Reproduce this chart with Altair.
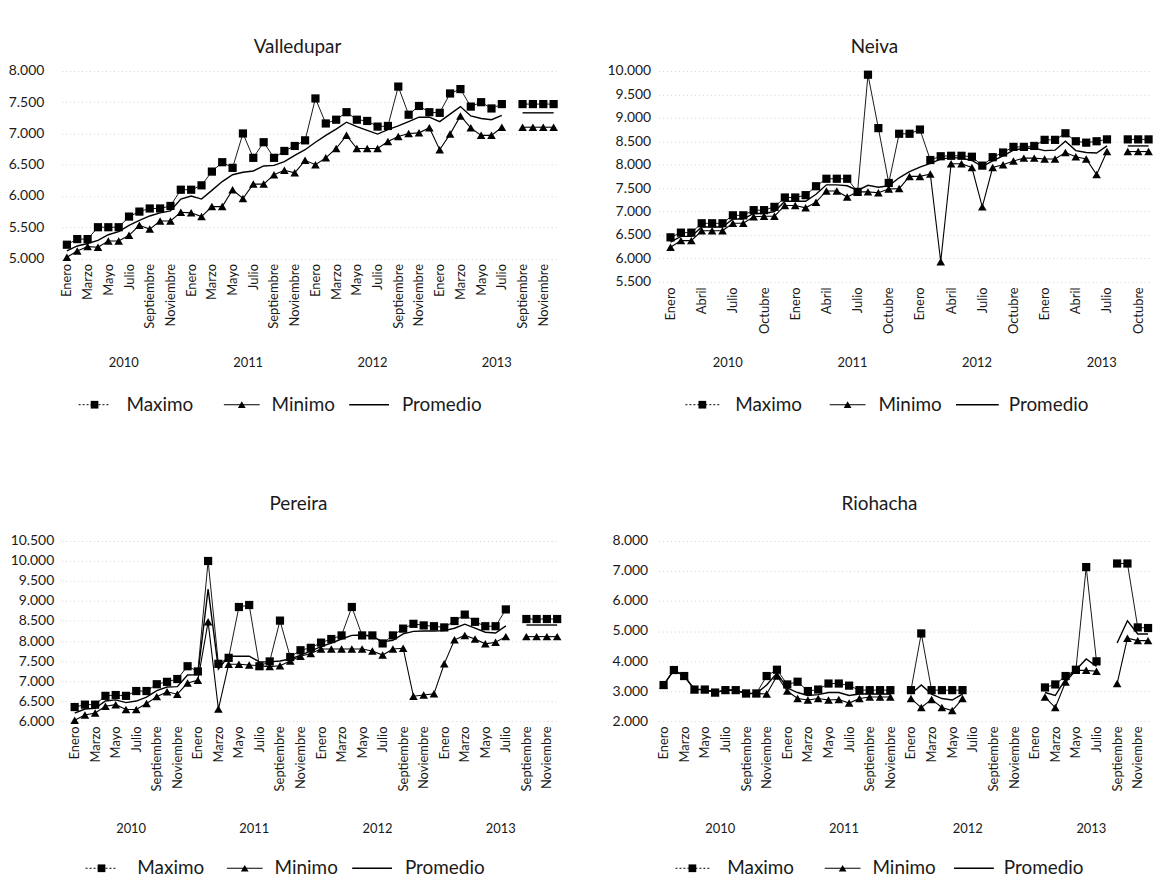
import altair as alt
import pandas as pd

MONTHS = ["Enero", "Febrero", "Marzo", "Abril", "Mayo", "Junio", "Julio",
          "Agosto", "Septiembre", "Octubre", "Noviembre", "Diciembre"]
YEARS = ["2010", "2011", "2012", "2013"]
SERIES = ["Maximo", "Minimo", "Promedio"]

# ---------------- data (thousands of pesos), one value per month 2010-01 .. 2013-12
valledupar_max = [5.22, 5.31, 5.31, 5.50, 5.50, 5.50, 5.67, 5.75, 5.80, 5.80, 5.84, 6.10,
                  6.10, 6.17, 6.39, 6.54, 6.45, 7.00, 6.61, 6.86, 6.61, 6.72, 6.80, 6.89,
                  7.56, 7.16, 7.22, 7.34, 7.22, 7.20, 7.11, 7.12, 7.75, 7.30, 7.44, 7.34,
                  7.33, 7.64, 7.71, 7.43, 7.50, 7.40, 7.47, None, 7.47, 7.47, 7.47, 7.47]
valledupar_min = [5.02, 5.12, 5.19, 5.18, 5.28, 5.28, 5.37, 5.53, 5.47, 5.60, 5.60, 5.74,
                  5.73, 5.67, 5.83, 5.83, 6.10, 5.96, 6.19, 6.19, 6.34, 6.41, 6.37, 6.57,
                  6.50, 6.61, 6.76, 6.97, 6.76, 6.76, 6.76, 6.87, 6.95, 7.00, 7.01, 7.09,
                  6.74, 6.99, 7.28, 7.09, 6.97, 6.97, 7.10, None, 7.10, 7.10, 7.10, 7.10]
valledupar_prom = [5.12, 5.20, 5.24, 5.29, 5.38, 5.43, 5.53, 5.61, 5.68, 5.73, 5.76, 5.95,
                   6.00, 5.95, 6.09, 6.23, 6.34, 6.38, 6.40, 6.48, 6.49, 6.55, 6.65, 6.74,
                   6.86, 6.97, 7.07, 7.18, 7.11, 7.05, 6.99, 7.06, 7.12, 7.19, 7.26, 7.26,
                   7.19, 7.31, 7.43, 7.28, 7.24, 7.22, 7.29, None, 7.33, 7.33, 7.33, 7.33]

neiva_max = [6.45, 6.55, 6.55, 6.75, 6.75, 6.75, 6.92, 6.92, 7.03, 7.03, 7.10, 7.30,
             7.30, 7.35, 7.54, 7.70, 7.70, 7.70, 7.42, 9.92, 8.78, 7.61, 8.66, 8.66,
             8.75, 8.10, 8.18, 8.19, 8.19, 8.17, 7.98, 8.16, 8.26, 8.38, 8.38, 8.40,
             8.53, 8.53, 8.67, 8.50, 8.47, 8.50, 8.54, None, 8.54, 8.54, 8.54, None]
neiva_min = [6.24, 6.38, 6.38, 6.59, 6.59, 6.59, 6.75, 6.75, 6.89, 6.90, 6.90, 7.13,
             7.13, 7.08, 7.20, 7.44, 7.44, 7.31, 7.42, 7.42, 7.40, 7.48, 7.49, 7.75,
             7.75, 7.80, 5.93, 8.02, 8.02, 7.94, 7.10, 7.94, 8.00, 8.08, 8.14, 8.14,
             8.12, 8.12, 8.26, 8.17, 8.12, 7.79, 8.28, None, 8.28, 8.28, 8.28, None]
neiva_prom = [6.35, 6.47, 6.47, 6.67, 6.67, 6.67, 6.84, 6.84, 6.96, 6.96, 7.00, 7.22,
              7.22, 7.22, 7.37, 7.57, 7.57, 7.55, 7.45, 7.56, 7.52, 7.55, 7.72, 7.85,
              7.95, 8.03, 8.12, 8.15, 8.14, 8.09, 7.96, 8.08, 8.19, 8.31, 8.35, 8.35,
              8.30, 8.31, 8.50, 8.30, 8.26, 8.25, 8.40, None, 8.40, 8.40, 8.40, None]

pereira_max = [6.35, 6.41, 6.41, 6.63, 6.65, 6.63, 6.75, 6.75, 6.92, 6.98, 7.05, 7.37,
               7.24, 10.00, 7.43, 7.58, 8.85, 8.90, 7.37, 7.49, 8.51, 7.60, 7.77, 7.83,
               7.96, 8.05, 8.14, 8.85, 8.14, 8.14, 7.94, 8.14, 8.31, 8.43, 8.39, 8.37,
               8.34, 8.50, 8.66, 8.48, 8.37, 8.37, 8.79, None, 8.55, 8.55, 8.55, 8.55]
pereira_min = [6.02, 6.15, 6.20, 6.37, 6.41, 6.29, 6.29, 6.44, 6.61, 6.73, 6.67, 6.95,
               7.02, 8.48, 6.30, 7.42, 7.42, 7.40, 7.38, 7.36, 7.38, 7.50, 7.62, 7.69,
               7.80, 7.80, 7.80, 7.80, 7.80, 7.75, 7.65, 7.80, 7.82, 6.62, 6.65, 6.68,
               7.43, 8.03, 8.14, 8.05, 7.93, 7.97, 8.11, None, 8.11, 8.11, 8.11, 8.11]
pereira_prom = [6.20, 6.30, 6.32, 6.50, 6.53, 6.46, 6.50, 6.60, 6.76, 6.85, 6.86, 7.15,
                7.16, 9.30, 7.30, 7.62, 7.62, 7.62, 7.48, 7.48, 7.50, 7.55, 7.65, 7.75,
                7.86, 7.95, 8.05, 8.14, 8.15, 8.12, 7.98, 8.02, 8.18, 8.24, 8.25, 8.25,
                8.26, 8.32, 8.42, 8.32, 8.22, 8.20, 8.38, None, 8.40, 8.40, 8.40, 8.40]

riohacha_max = [3.20, 3.70, 3.50, 3.05, 3.05, 2.95, 3.03, 3.03, 2.92, 2.92, 3.50, 3.71,
                3.22, 3.31, 3.00, 3.05, 3.25, 3.25, 3.18, 3.03, 3.03, 3.03, 3.03, None,
                3.03, 4.92, 3.03, 3.03, 3.03, 3.03, None, None, None, None, None, None,
                None, 3.12, 3.22, 3.50, 3.71, 7.13, 3.99, None, 7.25, 7.25, 5.12, 5.10]
riohacha_min = [3.20, 3.70, 3.50, 3.05, 3.05, 2.95, 3.03, 3.03, 2.92, 2.92, 2.90, 3.50,
                3.00, 2.75, 2.70, 2.75, 2.70, 2.72, 2.60, 2.75, 2.80, 2.80, 2.80, None,
                2.75, 2.45, 2.72, 2.45, 2.35, 2.75, None, None, None, None, None, None,
                None, 2.80, 2.45, 3.30, 3.69, 3.69, 3.66, None, 3.25, 4.76, 4.68, 4.68]
riohacha_prom = [3.20, 3.70, 3.50, 3.05, 3.05, 2.95, 3.03, 3.03, 2.92, 2.92, 3.20, 3.60,
                 3.10, 2.95, 2.85, 2.88, 2.95, 2.95, 2.85, 2.90, 2.90, 2.90, 2.90, None,
                 2.90, 3.20, 2.90, 2.75, 2.70, 2.90, None, None, None, None, None, None,
                 None, 2.95, 2.85, 3.40, 3.70, 4.07, 3.82, None, 4.60, 5.34, 4.90, 4.90]

FONT = "Lato"
TXT = "#1a1a1a"
ONE = pd.DataFrame({"k": [0]})


def long_df(mx, mn, pr):
    rows = []
    for name, arr in zip(SERIES, [mx, mn, pr]):
        seg, gap = 0, True
        for i, v in enumerate(arr):
            if v is None:
                gap = True
                continue
            if gap:
                seg += 1
                gap = False
            rows.append({"i": i, "serie": name, "v": v, "seg": f"{name}{seg}"})
    return pd.DataFrame(rows)


def frange(a, b, s):
    out, v = [], a
    while v <= b + 1e-9:
        out.append(round(v, 3))
        v += s
    return out


MONTH_ARR = "[" + ",".join(f"'{m}'" for m in MONTHS) + "]"


def panel(name, mx, mn, pr, dom_x, width, dom_y, height, y_step, x_every,
          y_offset, title_dx, title_offset, year_y, leg_y, leg):
    df = long_df(mx, mn, pr)
    xs = alt.Scale(domain=dom_x, nice=False, zero=False)
    ys = alt.Scale(domain=dom_y, nice=False, zero=False)
    x_axis = alt.Axis(values=[i for i in range(48) if i % x_every == 0],
                      labelExpr=f"{MONTH_ARR}[datum.value % 12]",
                      labelAngle=270, labelPadding=5, labelFontSize=13,
                      labelFont=FONT, labelColor=TXT, ticks=False, domain=False,
                      grid=False, title=None, labelOverlap=False, labelFlush=False)
    y_axis = alt.Axis(values=frange(dom_y[0], dom_y[1], y_step), format=".3f",
                      labelFontSize=14, labelFont=FONT, labelColor=TXT,
                      ticks=False, domain=False, grid=True, gridColor="#d4d4d4",
                      gridDash=[1, 3], gridWidth=1, labelPadding=18,
                      offset=y_offset, title=None)
    X = alt.X("i:Q", scale=xs, axis=x_axis)
    Y = alt.Y("v:Q", scale=ys, axis=y_axis)
    base = alt.Chart(df)

    max_line = base.transform_filter(alt.datum.serie == "Maximo").mark_line(
        color="black", strokeWidth=0.9).encode(x=X, y=Y, detail="seg:N")
    max_pts = base.transform_filter(alt.datum.serie == "Maximo").mark_point(
        shape="square", filled=True, color="black", size=68, opacity=1).encode(x=X, y=Y)
    min_line = base.transform_filter(alt.datum.serie == "Minimo").mark_line(
        color="black", strokeWidth=1.1).encode(x=X, y=Y, detail="seg:N")
    min_pts = base.transform_filter(alt.datum.serie == "Minimo").mark_point(
        shape="triangle-up", filled=True, color="black", size=75, opacity=1).encode(x=X, y=Y)
    prom_line = base.transform_filter(alt.datum.serie == "Promedio").mark_line(
        color="black", strokeWidth=1.4).encode(x=X, y=Y, detail="seg:N")

    years_df = pd.DataFrame({"i": [12 * k + 5.5 for k in range(4)], "year": YEARS})
    years = alt.Chart(years_df).mark_text(
        fontSize=13, font=FONT, color=TXT, baseline="middle").encode(
        x=alt.X("i:Q", scale=xs, axis=x_axis), y=alt.value(year_y), text="year:N")

    layers = [max_line, min_line, prom_line, max_pts, min_pts, years]

    # legend glyphs
    L = alt.Chart(ONE)
    layers += [
        L.mark_rule(color="black", strokeWidth=1, strokeDash=[2, 2]).encode(
            x=alt.value(leg["max_l"][0]), x2=alt.value(leg["max_l"][1]), y=alt.value(leg_y)),
        L.mark_point(shape="square", filled=True, color="black", size=60, opacity=1).encode(
            x=alt.value(leg["max_m"]), y=alt.value(leg_y)),
        L.mark_rule(color="black", strokeWidth=1.1).encode(
            x=alt.value(leg["min_l"][0]), x2=alt.value(leg["min_l"][1]), y=alt.value(leg_y)),
        L.mark_point(shape="triangle-up", filled=True, color="black", size=60, opacity=1).encode(
            x=alt.value(leg["min_m"]), y=alt.value(leg_y)),
        L.mark_rule(color="black", strokeWidth=1.4).encode(
            x=alt.value(leg["pro_l"][0]), x2=alt.value(leg["pro_l"][1]), y=alt.value(leg_y)),
    ]
    for key, txt in [("max_t", "Maximo"), ("min_t", "Minimo"), ("pro_t", "Promedio")]:
        layers.append(L.mark_text(align="left", baseline="middle", fontSize=19,
                                  font=FONT, color=TXT).encode(
            x=alt.value(leg[key]), y=alt.value(leg_y), text=alt.value(txt)))

    return alt.layer(*layers).properties(
        width=width, height=height,
        title=alt.TitleParams(text=name, fontSize=19, font=FONT, fontWeight="normal",
                              color=TXT, anchor="middle", frame="group",
                              dx=title_dx, offset=title_offset))


leg_v = {"max_l": (17, 49), "max_m": 33, "max_t": 65,
         "min_l": (163, 199), "min_m": 181, "min_t": 211,
         "pro_l": (289, 329), "pro_t": 342}
leg_n = {"max_l": (27, 61), "max_m": 44, "max_t": 77,
         "min_l": (172, 208), "min_m": 190, "min_t": 221,
         "pro_l": (299, 342), "pro_t": 352}
leg_p = {"max_l": (24, 56), "max_m": 40, "max_t": 76,
         "min_l": (166, 202), "min_m": 184, "min_t": 214,
         "pro_l": (292, 332), "pro_t": 345}
leg_r = {"max_l": (17, 51), "max_m": 34, "max_t": 69,
         "min_l": (167, 203), "min_m": 185, "min_t": 215,
         "pro_l": (297, 337), "pro_t": 347}

v = panel("Valledupar", valledupar_max, valledupar_min, valledupar_prom,
          [-0.5, 47.53], 500, [5.0, 8.0], 188.5, 0.5, 2, 0, -13, 7, 293.5, 335.5, leg_v)
n = panel("Neiva", neiva_max, neiva_min, neiva_prom,
          [-1.149, 46.14], 494, [5.5, 10.0], 212, 0.5, 3, -10, -30, 7, 293.5, 335.5, leg_n)
p = panel("Pereira", pereira_max, pereira_min, pereira_prom,
          [-1.26, 47.19], 500, [6.0, 10.5], 181, 0.5, 2, -10, -12, 20, 290, 329, leg_p)
r = panel("Riohacha", riohacha_max, riohacha_min, riohacha_prom,
          [-0.4825, 47.19], 494, [2.0, 8.0], 181, 1.0, 2, -7, -25, 20, 290, 329, leg_r)

chart = alt.concat(v, n, p, r, columns=2, spacing={"row": 260.5, "column": 100},
                   bounds="flush").properties(
    padding={"top": 28, "left": 0, "right": 0, "bottom": 0}, background="white"
).configure_view(stroke=None)

chart.save("out.html", embed_options={"renderer": "svg", "actions": False})
